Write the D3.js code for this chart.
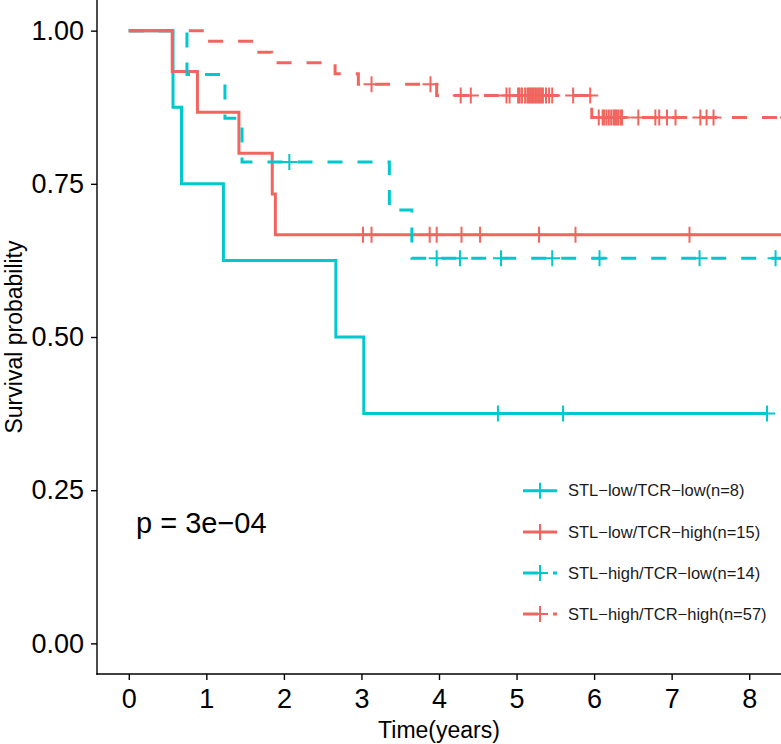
<!DOCTYPE html>
<html>
<head>
<meta charset="utf-8">
<script src="https://cdn.jsdelivr.net/npm/d3@7"></script>
<style>
  html, body { margin: 0; padding: 0; background: #fff; }
  svg { display: block; font-family: "Liberation Sans", Arial, Helvetica, sans-serif; }
</style>
</head>
<body>
<svg id="chart" width="781" height="744"></svg>
<script>
// ---------- data ----------
const categories = [
  "STL\u2212low/TCR\u2212low(n=8)",
  "STL\u2212low/TCR\u2212high(n=15)",
  "STL\u2212high/TCR\u2212low(n=14)",
  "STL\u2212high/TCR\u2212high(n=57)"
];
const seriesColors = ["#00C8CC", "#F0665F", "#00C8CC", "#F0665F"];
const seriesDashed = [false, false, true, true];

// event times and survival after each event
const eventTimes1 = [0.57, 0.68, 1.22, 2.67, 3.03];
const surv1 = [0.875, 0.75, 0.625, 0.5, 0.375];
const censor1 = [4.76, 5.60, 8.23];

const eventTimes2 = [0.56, 0.885, 1.42, 1.85, 1.89];
const surv2 = [0.9333, 0.8667, 0.8, 0.7333, 0.6667];
const censor2 = [3.02, 3.13, 3.88, 3.97, 4.29, 4.53, 5.29, 5.76, 7.23, 8.6];

const eventTimes3 = [0.75, 1.24, 1.46, 3.36, 3.65];
const surv3 = [0.9286, 0.8571, 0.7857, 0.7071, 0.6286];
const censor3 = [2.07, 3.97, 4.27, 4.80, 5.46, 6.07, 7.36, 8.34, 8.6];

const eventTimes4 = [0.99, 1.64, 1.84, 2.66, 2.96, 3.97, 5.97];
const surv4 = [0.9825, 0.9649, 0.9474, 0.9298, 0.9123, 0.8941, 0.8583];
const censor4 = [3.13, 3.89, 4.28, 4.41, 4.87, 4.91, 5.02, 5.04, 5.07, 5.11, 5.14, 5.16,
  5.18, 5.20, 5.22, 5.24, 5.26, 5.28, 5.30, 5.32, 5.34, 5.38, 5.42, 5.46, 5.73, 5.95,
  6.06, 6.11, 6.13, 6.16, 6.19, 6.22, 6.25, 6.27, 6.29, 6.31, 6.34, 6.36, 6.57, 6.79,
  6.84, 6.94, 7.05, 7.37, 7.45, 7.54, 8.5, 8.55, 8.6, 8.65];

const xTicks = [0, 1, 2, 3, 4, 5, 6, 7, 8];
const yTicks = [0, 0.25, 0.5, 0.75, 1];
const xTitle = "Time(years)";
const yTitle = "Survival probability";
const pText = "p = 3e\u221204";

// ---------- build ----------
const series = [
  { ev: eventTimes1, s: surv1, c: censor1 },
  { ev: eventTimes2, s: surv2, c: censor2 },
  { ev: eventTimes3, s: surv3, c: censor3 },
  { ev: eventTimes4, s: surv4, c: censor4 }
].map((d, i) => {
  const pts = [[0, 1]];
  d.ev.forEach((t, j) => pts.push([t, d.s[j]]));
  const tEnd = Math.max(d3.max(d.ev), d3.max(d.c));
  pts.push([tEnd, d.s[d.s.length - 1]]);
  const survAt = t => {
    let v = 1;
    d.ev.forEach((e, j) => { if (e <= t) v = d.s[j]; });
    return v;
  };
  const cens = d.c.map(t => [t, survAt(t)]);
  return { name: categories[i], color: seriesColors[i], dashed: seriesDashed[i], pts, cens };
});

const W = 781, H = 744;
const panel = { left: 97, right: 781, top: 0, bottom: 674 };
const x = d3.scaleLinear().domain([-0.41, 8.41]).range([panel.left, panel.right]);
const y = d3.scaleLinear().domain([-0.05, 1.05]).range([panel.bottom, panel.top]);

const svg = d3.select("#chart");
svg.append("rect").attr("width", W).attr("height", H).attr("fill", "#fff");

svg.append("defs").append("clipPath").attr("id", "clip")
  .append("rect").attr("x", panel.left).attr("y", panel.top)
  .attr("width", panel.right - panel.left).attr("height", panel.bottom - panel.top);

const g = svg.append("g").attr("clip-path", "url(#clip)");
const line = d3.line().x(d => x(d[0])).y(d => y(d[1])).curve(d3.curveStepAfter);

series.forEach(s => {
  g.append("path").datum(s.pts)
    .attr("d", line)
    .attr("fill", "none")
    .attr("stroke", s.color)
    .attr("stroke-width", 3)
    .attr("stroke-dasharray", s.dashed ? "15,15" : null);
});
const plusHalf = 8;
series.forEach(s => {
  const cg = g.append("g").attr("stroke", s.color).attr("stroke-width", 2);
  cg.selectAll("path").data(s.cens).join("path")
    .attr("d", d => `M${x(d[0]) - plusHalf},${y(d[1])}H${x(d[0]) + plusHalf}M${x(d[0])},${y(d[1]) - plusHalf}V${y(d[1]) + plusHalf}`);
});

// axes
const xAxis = d3.axisBottom(x).tickValues(xTicks).tickFormat(d3.format("d"))
  .tickSize(6).tickSizeOuter(0).tickPadding(9);
const yAxis = d3.axisLeft(y).tickValues(yTicks).tickFormat(d3.format(".2f"))
  .tickSize(6).tickSizeOuter(0).tickPadding(7);

const gx = svg.append("g").attr("transform", `translate(0,${panel.bottom})`).call(xAxis);
const gy = svg.append("g").attr("transform", `translate(${panel.left},0)`).call(yAxis);
[gx, gy].forEach(a => {
  a.select(".domain").attr("stroke", "#000").attr("stroke-width", 1.4);
  a.selectAll(".tick line").attr("stroke", "#000").attr("stroke-width", 1.4);
  a.selectAll(".tick text").attr("fill", "#000").attr("font-size", 27)
    .attr("font-family", "'Liberation Sans', Arial, sans-serif");
});
gx.select(".domain").attr("d", `M${panel.left - 0.7},0H${panel.right}`);
gy.select(".domain").attr("d", `M0,${panel.top}V${panel.bottom + 0.7}`);

svg.append("text").attr("x", (panel.left + panel.right) / 2).attr("y", 738)
  .attr("text-anchor", "middle").attr("font-size", 23).attr("fill", "#000").text(xTitle);
svg.append("text").attr("transform", `translate(22,${(panel.top + panel.bottom) / 2}) rotate(-90)`)
  .attr("text-anchor", "middle").attr("font-size", 23).attr("fill", "#000").text(yTitle);

svg.append("text").attr("x", 136).attr("y", 533).attr("font-size", 29).attr("fill", "#000").text(pText);

// legend
const legY = [490.7, 532, 573, 614];
const lg = svg.append("g");
series.forEach((s, i) => {
  const row = lg.append("g").attr("transform", `translate(523,${legY[i]})`);
  row.append("line").attr("x1", 0).attr("x2", 34).attr("y1", 0).attr("y2", 0)
    .attr("stroke", s.color).attr("stroke-width", 3)
    .attr("stroke-dasharray", s.dashed ? "15,15" : null);
  row.append("path").attr("d", `M${17 - plusHalf},0H${17 + plusHalf}M17,${-plusHalf}V${plusHalf}`)
    .attr("stroke", s.color).attr("stroke-width", 2);
  row.append("text").attr("x", 45).attr("y", 0).attr("dy", "0.35em")
    .attr("font-size", 16.5).attr("fill", "#1a1a1a").text(s.name);
});
</script>
</body>
</html>
